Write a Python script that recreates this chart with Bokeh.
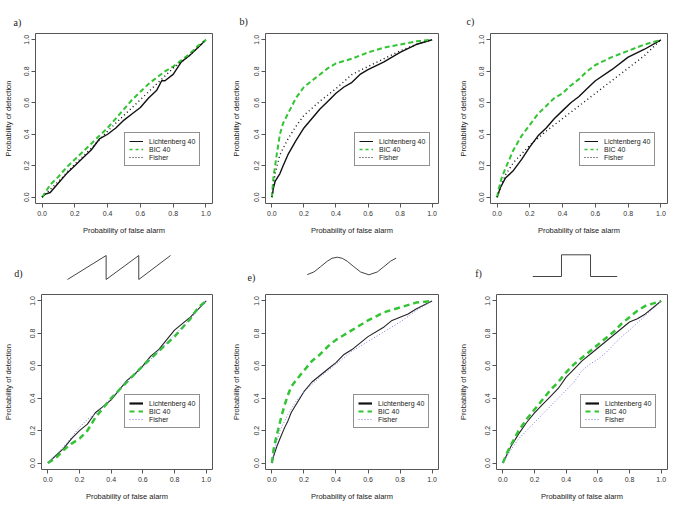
from bokeh.plotting import figure
from bokeh.layouts import column, row
from bokeh.models import Range1d, FixedTicker, Legend, LegendItem, Label
from bokeh.embed import file_html
from bokeh.resources import INLINE

# ---------------- data ----------------
TICKS = [0.0, 0.2, 0.4, 0.6, 0.8, 1.0]
TICK_LABELS = ["0.0", "0.2", "0.4", "0.6", "0.8", "1.0"]
SERIES_NAMES = ["Lichtenberg 40", "BIC 40", "Fisher"]
PANEL_LABELS = ["a)", "b)", "c)", "d)", "e)", "f)"]
X_TITLE = "Probability of false alarm"
Y_TITLE = "Probability of detection"

# panel a
A_LICH_X = [0, 0.02, 0.05, 0.1, 0.15, 0.2, 0.25, 0.3, 0.35, 0.4, 0.45, 0.5, 0.55, 0.6, 0.65, 0.7, 0.73, 0.75, 0.8, 0.85, 0.9, 0.95, 1.0]
A_LICH_Y = [0, 0.02, 0.03, 0.09, 0.15, 0.2, 0.25, 0.3, 0.37, 0.4, 0.44, 0.49, 0.53, 0.57, 0.63, 0.68, 0.74, 0.74, 0.78, 0.86, 0.9, 0.95, 1.0]
A_BIC_X = [0, 0.02, 0.05, 0.1, 0.15, 0.2, 0.25, 0.3, 0.35, 0.4, 0.45, 0.5, 0.55, 0.6, 0.65, 0.7, 0.75, 0.8, 0.85, 0.9, 0.95, 1.0]
A_BIC_Y = [0, 0.03, 0.08, 0.13, 0.19, 0.24, 0.29, 0.34, 0.39, 0.44, 0.5, 0.56, 0.62, 0.67, 0.72, 0.76, 0.8, 0.83, 0.87, 0.91, 0.96, 1.0]
A_FISH_X = [0, 0.1, 0.2, 0.3, 0.4, 0.5, 0.6, 0.7, 0.8, 0.9, 1.0]
A_FISH_Y = [0, 0.1, 0.21, 0.31, 0.42, 0.52, 0.62, 0.72, 0.82, 0.9, 1.0]

# panel b
B_LICH_X = [0, 0.01, 0.02, 0.05, 0.07, 0.1, 0.15, 0.2, 0.25, 0.3, 0.35, 0.4, 0.45, 0.5, 0.55, 0.6, 0.7, 0.8, 0.9, 1.0]
B_LICH_Y = [0, 0.06, 0.1, 0.15, 0.2, 0.27, 0.36, 0.44, 0.5, 0.56, 0.61, 0.66, 0.7, 0.73, 0.78, 0.81, 0.86, 0.92, 0.97, 1.0]
B_BIC_X = [0, 0.005, 0.01, 0.02, 0.03, 0.05, 0.07, 0.1, 0.15, 0.2, 0.25, 0.3, 0.35, 0.4, 0.5, 0.6, 0.7, 0.8, 0.9, 1.0]
B_BIC_Y = [0, 0.07, 0.13, 0.2, 0.27, 0.4, 0.47, 0.53, 0.63, 0.7, 0.74, 0.78, 0.82, 0.85, 0.88, 0.92, 0.95, 0.97, 0.99, 1.0]
B_FISH_X = [0, 0.02, 0.05, 0.1, 0.15, 0.2, 0.3, 0.4, 0.5, 0.6, 0.7, 0.8, 0.9, 1.0]
B_FISH_Y = [0, 0.15, 0.27, 0.37, 0.45, 0.52, 0.61, 0.69, 0.78, 0.83, 0.88, 0.93, 0.97, 1.0]

# panel c
C_LICH_X = [0, 0.02, 0.05, 0.1, 0.15, 0.2, 0.25, 0.3, 0.35, 0.4, 0.45, 0.5, 0.55, 0.6, 0.7, 0.8, 0.9, 1.0]
C_LICH_Y = [0, 0.06, 0.12, 0.17, 0.24, 0.32, 0.39, 0.44, 0.5, 0.55, 0.6, 0.64, 0.69, 0.74, 0.81, 0.89, 0.94, 1.0]
C_BIC_X = [0, 0.01, 0.03, 0.05, 0.1, 0.15, 0.2, 0.25, 0.3, 0.35, 0.4, 0.45, 0.5, 0.55, 0.6, 0.7, 0.8, 0.9, 1.0]
C_BIC_Y = [0, 0.05, 0.13, 0.18, 0.3, 0.39, 0.46, 0.53, 0.58, 0.63, 0.66, 0.71, 0.75, 0.8, 0.84, 0.89, 0.93, 0.97, 1.0]
C_FISH_X = [0, 0.05, 0.1, 0.2, 0.3, 0.4, 0.5, 0.6, 0.7, 0.8, 0.9, 1.0]
C_FISH_Y = [0, 0.14, 0.22, 0.33, 0.42, 0.5, 0.58, 0.66, 0.74, 0.82, 0.9, 1.0]

# panel d
D_LICH_X = [0, 0.1, 0.15, 0.2, 0.25, 0.3, 0.35, 0.4, 0.45, 0.5, 0.55, 0.6, 0.65, 0.7, 0.75, 0.8, 0.85, 0.9, 0.95, 1.0]
D_LICH_Y = [0, 0.09, 0.15, 0.2, 0.24, 0.31, 0.35, 0.39, 0.45, 0.51, 0.55, 0.6, 0.66, 0.7, 0.76, 0.82, 0.86, 0.9, 0.95, 1.0]
D_BIC_X = [0, 0.05, 0.1, 0.15, 0.2, 0.25, 0.3, 0.35, 0.4, 0.5, 0.6, 0.7, 0.8, 0.9, 0.95, 1.0]
D_BIC_Y = [0, 0.03, 0.08, 0.12, 0.15, 0.2, 0.28, 0.34, 0.4, 0.5, 0.6, 0.69, 0.78, 0.89, 0.96, 1.0]
D_FISH_X = [0, 0.1, 0.2, 0.25, 0.3, 0.4, 0.5, 0.6, 0.7, 0.8, 0.9, 1.0]
D_FISH_Y = [0, 0.1, 0.22, 0.27, 0.3, 0.4, 0.5, 0.59, 0.69, 0.79, 0.89, 1.0]

# panel e
E_LICH_X = [0, 0.01, 0.03, 0.05, 0.08, 0.1, 0.12, 0.15, 0.2, 0.25, 0.3, 0.35, 0.4, 0.45, 0.5, 0.55, 0.6, 0.7, 0.75, 0.8, 0.85, 0.9, 1.0]
E_LICH_Y = [0, 0.04, 0.1, 0.15, 0.22, 0.26, 0.31, 0.36, 0.44, 0.5, 0.54, 0.58, 0.62, 0.67, 0.7, 0.74, 0.78, 0.84, 0.88, 0.9, 0.92, 0.95, 1.0]
E_BIC_X = [0, 0.01, 0.02, 0.04, 0.06, 0.08, 0.1, 0.12, 0.15, 0.2, 0.25, 0.3, 0.35, 0.4, 0.45, 0.5, 0.55, 0.6, 0.7, 0.8, 0.9, 1.0]
E_BIC_Y = [0, 0.08, 0.13, 0.21, 0.29, 0.36, 0.42, 0.47, 0.51, 0.57, 0.63, 0.67, 0.72, 0.76, 0.79, 0.82, 0.85, 0.88, 0.93, 0.96, 0.99, 1.0]
E_FISH_X = [0, 0.02, 0.05, 0.1, 0.15, 0.2, 0.3, 0.4, 0.5, 0.6, 0.7, 0.8, 0.9, 1.0]
E_FISH_Y = [0, 0.1, 0.2, 0.3, 0.38, 0.44, 0.53, 0.61, 0.69, 0.75, 0.81, 0.87, 0.94, 1.0]

# panel f
F_LICH_X = [0, 0.05, 0.1, 0.15, 0.2, 0.25, 0.3, 0.35, 0.4, 0.45, 0.5, 0.55, 0.6, 0.65, 0.7, 0.75, 0.8, 0.85, 0.9, 0.95, 1.0]
F_LICH_Y = [0, 0.1, 0.18, 0.25, 0.31, 0.36, 0.41, 0.46, 0.53, 0.58, 0.63, 0.67, 0.71, 0.75, 0.79, 0.83, 0.87, 0.89, 0.92, 0.96, 1.0]
F_BIC_X = [0, 0.03, 0.05, 0.1, 0.15, 0.2, 0.25, 0.3, 0.35, 0.4, 0.45, 0.5, 0.6, 0.65, 0.7, 0.75, 0.8, 0.85, 0.9, 1.0]
F_BIC_Y = [0, 0.07, 0.11, 0.2, 0.27, 0.33, 0.39, 0.45, 0.5, 0.56, 0.61, 0.65, 0.73, 0.77, 0.81, 0.86, 0.9, 0.94, 0.97, 1.0]
F_FISH_X = [0, 0.05, 0.1, 0.15, 0.2, 0.25, 0.3, 0.35, 0.4, 0.45, 0.5, 0.55, 0.6, 0.65, 0.7, 0.75, 0.8, 0.9, 1.0]
F_FISH_Y = [0, 0.08, 0.15, 0.2, 0.25, 0.3, 0.35, 0.4, 0.45, 0.5, 0.57, 0.61, 0.64, 0.68, 0.73, 0.78, 0.82, 0.91, 1.0]

# waveform icons above the lower row
SAW_X = [0.0, 0.375, 0.375, 0.692, 0.692, 1.0]
SAW_Y = [0.0, 1.0, 0.0, 1.0, 0.0, 1.0]
SINE_X = [0.0, 0.075, 0.15, 0.225, 0.28, 0.337, 0.393, 0.45, 0.524, 0.6, 0.693, 0.787, 0.861, 0.936, 1.0]
SINE_Y = [0.01, 0.16, 0.46, 0.77, 0.94, 1.0, 0.94, 0.77, 0.46, 0.16, 0.0, 0.16, 0.46, 0.77, 0.95]
PULSE_X = [0.0, 0.34, 0.34, 0.684, 0.684, 1.0]
PULSE_Y = [0.0, 0.0, 1.0, 1.0, 0.0, 0.0]

GREEN = "#33c433"
SANS = "Liberation Sans"
SERIF = "Liberation Serif"
NAN = float("nan")


def roc_panel(w, h, bl, br, bt, bb, data, top_row, leg_loc, label_text, label_offset,
              label_standoff, ylab_standoff):
    p = figure(width=w, height=h, output_backend="svg", toolbar_location=None,
               x_range=Range1d(-0.04, 1.04), y_range=Range1d(-0.04, 1.04),
               min_border_left=bl, min_border_right=br,
               min_border_top=bt, min_border_bottom=bb)
    p.grid.visible = False
    p.outline_line_color = "#555555"
    p.outline_line_width = 1
    for ax in (p.xaxis[0], p.yaxis[0]):
        ax.ticker = FixedTicker(ticks=TICKS)
        ax.major_label_overrides = {t: s for t, s in zip(TICKS, TICK_LABELS)}
        ax.axis_line_color = None
        ax.major_tick_line_color = "#555555"
        ax.major_tick_out = 4
        ax.major_tick_in = 0
        ax.minor_tick_line_color = None
        ax.major_label_text_font = SANS
        ax.major_label_text_font_size = "7px"
        ax.major_label_text_color = "#333333"
        ax.axis_label_text_font = SANS
        ax.axis_label_text_font_size = "7.5px"
        ax.axis_label_text_font_style = "normal"
        ax.axis_label_text_color = "#222222"
    p.xaxis.axis_label = X_TITLE
    p.yaxis.axis_label = Y_TITLE
    p.xaxis.major_label_standoff = 3
    p.xaxis.axis_label_standoff = 7
    p.yaxis.major_label_orientation = "vertical"
    p.yaxis.major_label_standoff = 2
    p.yaxis.axis_label_standoff = ylab_standoff

    (lx, ly), (bx, by), (fx, fy) = data
    if top_row:
        p.line(lx, ly, line_color="#111111", line_width=1.4)
        p.line(bx, by, line_color=GREEN, line_width=2, line_dash="5 3")
        p.line(fx, fy, line_color="#111111", line_width=1.4, line_dash="1 3")
        leg_styles = [dict(line_color="#111111", line_width=1),
                      dict(line_color=GREEN, line_width=1.3, line_dash="3 3"),
                      dict(line_color="#111111", line_width=1, line_dash="1 2")]
    else:
        p.line(lx, ly, line_color="#222222", line_width=1.1)
        p.line(bx, by, line_color=GREEN, line_width=2.5, line_dash="6 4")
        p.line(fx, fy, line_color="#7a7ae0", line_width=1, line_dash="1 2")
        leg_styles = [dict(line_color="#111111", line_width=2.2),
                      dict(line_color=GREEN, line_width=2.2, line_dash="5 4"),
                      dict(line_color="#7a7ae0", line_width=1, line_dash="1 2")]
    items = []
    for name, st in zip(SERIES_NAMES, leg_styles):
        lr = p.line(x=[NAN], y=[NAN], **st)
        items.append(LegendItem(label=name, renderers=[lr]))
    leg = Legend(items=items, location=leg_loc, margin=0, padding=4, spacing=0,
                 label_height=8, glyph_height=8, glyph_width=14, label_standoff=6,
                 label_text_font=SANS, label_text_font_size="7px",
                 label_text_color="#222222",
                 border_line_color="#222222", border_line_width=1,
                 background_fill_color="white", background_fill_alpha=1.0)
    p.add_layout(leg, "center")
    if label_text is not None:
        p.title.text = label_text
        p.title.align = "left"
        p.title.offset = label_offset
        p.title.standoff = label_standoff
        p.title.text_font = SERIF
        p.title.text_font_size = "10px"
        p.title.text_font_style = "normal"
        p.title.text_color = "#222222"
    return p


def wave_panel(w, h, left, right, top, bottom, xs, ys, label_text, label_xy):
    # the frame fills the whole figure; ranges place the icon at the wanted pixels
    kx = right - left
    ky = bottom - top
    p = figure(width=w, height=h, output_backend="svg", toolbar_location=None,
               x_range=Range1d(-left / kx, (w - left) / kx),
               y_range=Range1d(-(h - bottom) / ky, 1 + top / ky),
               min_border_left=0, min_border_right=0,
               min_border_top=0, min_border_bottom=0)
    p.axis.visible = False
    p.grid.visible = False
    p.outline_line_color = None
    p.line(xs, ys, line_color="#444444", line_width=1)
    p.add_layout(Label(x=label_xy[0], y=h - label_xy[1], x_units="screen", y_units="screen",
                       text=label_text, text_font=SERIF, text_font_size="10px",
                       text_align="center", text_baseline="middle", text_color="#222222"))
    return p


pa = roc_panel(228, 240, 34, 16, 33, 37,
               [(A_LICH_X, A_LICH_Y), (A_BIC_X, A_BIC_Y), (A_FISH_X, A_FISH_Y)],
               True, (89, 37), PANEL_LABELS[0], -22, 11, 9)
pb = roc_panel(227, 240, 33, 17, 33, 37,
               [(B_LICH_X, B_LICH_Y), (B_BIC_X, B_BIC_Y), (B_FISH_X, B_FISH_Y)],
               True, (89, 37), PANEL_LABELS[1], -26, 14, 11)
pc = roc_panel(230, 240, 34, 18, 33, 37,
               [(C_LICH_X, C_LICH_Y), (C_BIC_X, C_BIC_Y), (C_FISH_X, C_FISH_Y)],
               True, (89, 37), PANEL_LABELS[2], -24, 14, 9)

wd = wave_panel(228, 50, 67, 170, 15, 39, SAW_X, SAW_Y, PANEL_LABELS[3], (18, 33))
we = wave_panel(227, 50, 78.7, 167.7, 16.7, 34.3, SINE_X, SINE_Y, PANEL_LABELS[4], (23, 37))
wf = wave_panel(230, 50, 77.3, 161.7, 14.3, 36, PULSE_X, PULSE_Y, PANEL_LABELS[5], (23, 33))

pd_ = roc_panel(228, 218, 40, 16, 4, 39,
                [(D_LICH_X, D_LICH_Y), (D_BIC_X, D_BIC_Y), (D_FISH_X, D_FISH_Y)],
                False, (83, 41), None, 0, 0, 15)
pe = roc_panel(227, 218, 34, 17, 4, 39,
               [(E_LICH_X, E_LICH_Y), (E_BIC_X, E_BIC_Y), (E_FISH_X, E_FISH_Y)],
               False, (88, 41), None, 0, 0, 11)
pf = roc_panel(230, 218, 39, 18, 4, 39,
               [(F_LICH_X, F_LICH_Y), (F_BIC_X, F_BIC_Y), (F_FISH_X, F_FISH_Y)],
               False, (84, 41), None, 0, 0, 15)

layout = column(row(pa, pb, pc, spacing=0),
                row(wd, we, wf, spacing=0),
                row(pd_, pe, pf, spacing=0),
                spacing=0)

open("out.html", "w").write(file_html(layout, INLINE))
